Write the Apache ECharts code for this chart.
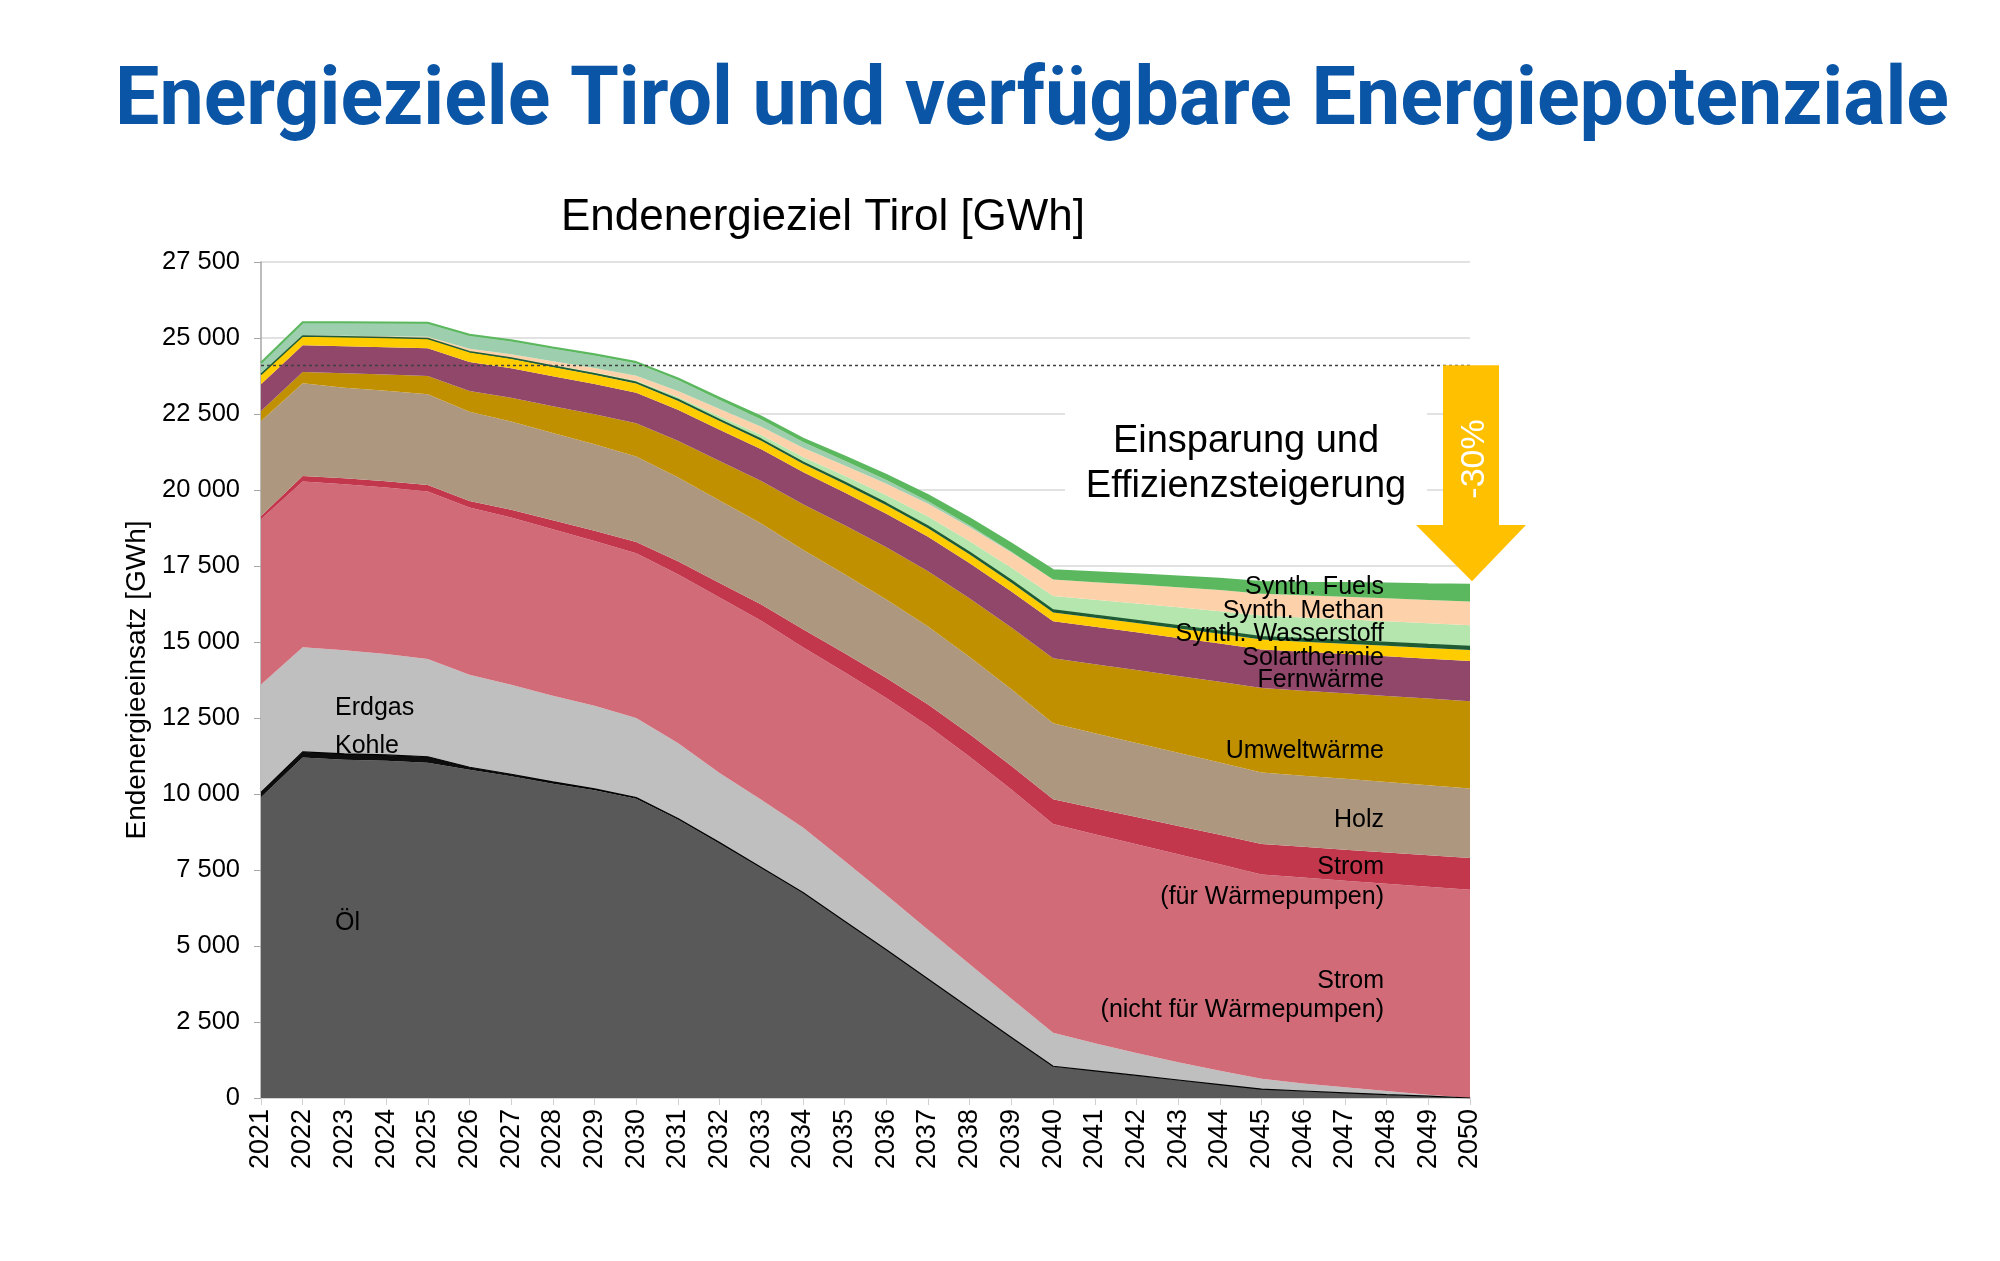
<!DOCTYPE html>
<html>
<head>
<meta charset="utf-8">
<script src="https://cdn.jsdelivr.net/npm/echarts@6/dist/echarts.min.js"></script>
<style>
  html, body { margin: 0; padding: 0; background: #ffffff; }
  #main { width: 2000px; height: 1261px; }
</style>
</head>
<body>
<div id="main"></div>
<script>
// Jahre
var years = ['2021','2022','2023','2024','2025','2026','2027','2028','2029','2030',
             '2031','2032','2033','2034','2035','2036','2037','2038','2039','2040',
             '2041','2042','2043','2044','2045','2046','2047','2048','2049','2050'];

// Endenergie je Träger [GWh]
var oel = [9890, 11200, 11130, 11090, 11030, 10800, 10580, 10340, 10120, 9840,
           9160, 8370, 7560, 6740, 5800, 4860, 3900, 2940, 1985, 1040,
           890, 740, 590, 440, 290, 230, 170, 110, 60, 0];
var kohle = [165, 185, 190, 195, 195, 80, 70, 60, 50, 40,
             35, 30, 25, 20, 18, 15, 12, 10, 8, 5,
             5, 4, 3, 2, 2, 1, 1, 1, 0, 0];
var erdgas = [3545, 3440, 3406, 3320, 3216, 3045, 2946, 2835, 2736, 2620,
              2483, 2290, 2229, 2140, 1975, 1800, 1625, 1450, 1275, 1100,
              905, 736, 587, 458, 338, 249, 179, 119, 50, 0];
var stromNichtWP = [5438, 5451, 5462, 5474, 5507, 5497, 5497, 5474, 5420, 5420,
                    5552, 5772, 5881, 5930, 6212, 6479, 6710, 6827, 6882, 6870,
                    6880, 6870, 6840, 6790, 6720, 6770, 6800, 6820, 6840, 6852];
var stromWP = [109, 186, 200, 210, 219, 219, 255, 295, 335, 373,
               430, 480, 535, 588, 625, 665, 700, 740, 775, 810,
               850, 890, 930, 970, 1006, 1013, 1020, 1027, 1034, 1041];
var holz = [3124, 3047, 2975, 2975, 2981, 2937, 2905, 2870, 2840, 2805,
            2760, 2710, 2665, 2616, 2600, 2580, 2560, 2540, 2520, 2500,
            2470, 2440, 2410, 2380, 2350, 2340, 2330, 2315, 2305, 2292];
var umweltwaerme = [329, 373, 480, 536, 602, 679, 780, 885, 990, 1096,
                    1200, 1300, 1400, 1500, 1610, 1715, 1820, 1925, 2030, 2141,
                    2270, 2400, 2525, 2650, 2778, 2795, 2815, 2835, 2850, 2870];
var fernwaerme = [876, 877, 888, 899, 910, 954, 968, 981, 995, 1008,
                  1020, 1030, 1042, 1054, 1080, 1108, 1135, 1162, 1190, 1216,
                  1228, 1240, 1250, 1262, 1273, 1282, 1292, 1301, 1310, 1320];
var solarthermie = [329, 307, 310, 314, 318, 320, 315, 310, 305, 300,
                    293, 286, 279, 272, 275, 278, 282, 285, 288, 290,
                    297, 304, 310, 317, 324, 331, 338, 345, 352, 359];
var biomethan = [0, 0, 0, 0, 5, 20, 25, 30, 35, 40,
                 44, 48, 52, 55, 59, 63, 67, 71, 75, 80,
                 82, 84, 86, 88, 90, 96, 102, 108, 114, 120];
var wasserstoff = [0, 0, 0, 0, 0, 10, 20, 30, 40, 50,
                   80, 110, 140, 170, 215, 265, 315, 365, 415, 460,
                   510, 560, 610, 655, 700, 700, 700, 700, 700, 700];
var methan = [0, 15, 30, 45, 60, 85, 105, 125, 145, 165,
              200, 235, 270, 305, 340, 380, 420, 460, 500, 540,
              580, 620, 660, 700, 720, 730, 740, 755, 765, 776];
var biokraftstoffe = [360, 410, 420, 425, 430, 430, 425, 420, 415, 410,
                      360, 300, 245, 190, 155, 120, 85, 55, 25, 0,
                      0, 0, 0, 0, 0, 0, 0, 0, 0, 0];
var fuels = [20, 25, 25, 28, 30, 32, 34, 36, 38, 40,
             55, 70, 90, 110, 140, 170, 200, 235, 270, 310,
             326, 340, 354, 368, 382, 416, 450, 485, 520, 555];

// Referenzlinie 2021 und Pfeil (-30%)
var refLevel = 24100;
var arrowHeadLevel = 18850;
var arrowTipLevel = 17000;

var FONT = '"Liberation Sans", Arial, sans-serif';

function stackSeries(name, data, color, line) {
    return {
        name: name,
        type: 'line',
        stack: 'total',
        data: data,
        symbol: 'none',
        smooth: false,
        silent: true,
        lineStyle: line ? { width: line.width, color: line.color } : { width: 0 },
        areaStyle: { color: color, opacity: 1 },
        itemStyle: { color: color }
    };
}

function fmtThousands(v) {
    if (v < 1000) return String(v);
    var rest = String(v % 1000);
    while (rest.length < 3) rest = '0' + rest;
    return Math.floor(v / 1000) + ' ' + rest;
}

var myChart = echarts.init(document.getElementById('main'), null, { renderer: 'canvas' });

var option = {
    backgroundColor: '#ffffff',
    animation: false,
    grid: {
        left: 261,
        right: 530,
        top: 262,
        bottom: 163
    },
    xAxis: {
        type: 'category',
        boundaryGap: false,
        data: years,
        axisLine: { show: true, lineStyle: { color: '#d0d0d0', width: 1.5 } },
        axisTick: { show: true, interval: 0, length: 7, lineStyle: { color: '#d0d0d0' } },
        axisLabel: {
            interval: 0,
            rotate: 90,
            margin: 11,
            color: '#000000',
            fontFamily: FONT,
            fontSize: 27
        },
        splitLine: { show: false }
    },
    yAxis: {
        type: 'value',
        min: 0,
        max: 27500,
        interval: 2500,
        name: 'Endenergieeinsatz [GWh]',
        nameLocation: 'middle',
        nameGap: 100,
        nameTextStyle: { color: '#000000', fontFamily: FONT, fontSize: 28 },
        axisLine: { show: true, lineStyle: { color: '#a6a6a6', width: 1.5 } },
        axisTick: { show: true, length: 7, lineStyle: { color: '#a6a6a6' } },
        axisLabel: {
            margin: 21,
            color: '#000000',
            fontFamily: FONT,
            fontSize: 25.5,
            formatter: fmtThousands
        },
        splitLine: { show: true, lineStyle: { color: '#d9d9d9', width: 1.5 } }
    },
    series: [
        stackSeries('Öl', oel, '#595959'),
        stackSeries('Kohle', kohle, '#0d0d0d', { width: 1.2, color: '#000000' }),
        stackSeries('Erdgas', erdgas, '#bfbfbf'),
        stackSeries('Strom (nicht für Wärmepumpen)', stromNichtWP, '#d16b78'),
        stackSeries('Strom (für Wärmepumpen)', stromWP, '#c3374d'),
        stackSeries('Holz', holz, '#ae977f'),
        stackSeries('Umweltwärme', umweltwaerme, '#c09000'),
        stackSeries('Fernwärme', fernwaerme, '#91476a'),
        stackSeries('Solarthermie', solarthermie, '#ffcc00'),
        stackSeries('Biomethan', biomethan, '#1f5c35', { width: 1.5, color: '#1f5c35' }),
        stackSeries('Synth. Wasserstoff', wasserstoff, '#b4e6ad'),
        stackSeries('Synth. Methan', methan, '#fdd2aa'),
        stackSeries('Biokraftstoffe', biokraftstoffe, '#9dcfae'),
        {
            name: 'Synth. Fuels',
            type: 'line',
            stack: 'total',
            data: fuels,
            symbol: 'none',
            silent: true,
            lineStyle: { width: 2, color: '#5cb85f' },
            areaStyle: { color: '#5cb85f', opacity: 1 },
            itemStyle: { color: '#5cb85f' },
            markLine: {
                silent: true,
                symbol: 'none',
                label: { show: false },
                lineStyle: { type: [3, 3], color: '#404040', width: 1.3 },
                data: [[{ coord: [years[0], refLevel] }, { coord: [years[years.length - 1], refLevel] }]]
            }
        }
    ]
};

myChart.setOption(option);

// Pfeil und Beschriftungen
var ctx = document.createElement('canvas').getContext('2d');
var mainTitle = 'Energieziele Tirol und verfügbare Energiepotenziale';
var titleFont = 'bold 81px Roboto, "Open Sans", sans-serif';
ctx.font = titleFont;
var titleScale = 1834 / ctx.measureText(mainTitle).width;

var xEnd = myChart.convertToPixel({ xAxisIndex: 0 }, years[years.length - 1]);
var yTop = myChart.convertToPixel({ yAxisIndex: 0 }, refLevel);
var yHead = myChart.convertToPixel({ yAxisIndex: 0 }, arrowHeadLevel);
var yTip = myChart.convertToPixel({ yAxisIndex: 0 }, arrowTipLevel);

function label(text, x, y, align) {
    return {
        type: 'text',
        z: 100,
        style: {
            text: text,
            x: x,
            y: y,
            fill: '#000000',
            font: '25px ' + FONT,
            textAlign: align || 'right',
            textVerticalAlign: 'middle'
        }
    };
}

var graphics = [
    {
        type: 'text',
        x: 115,
        y: 104,
        scaleX: titleScale,
        style: {
            text: mainTitle,
            x: 0,
            y: 0,
            fill: '#0a55a5',
            font: titleFont,
            textAlign: 'left',
            textVerticalAlign: 'middle'
        }
    },
    {
        type: 'text',
        style: {
            text: 'Endenergieziel Tirol [GWh]',
            x: 823,
            y: 218,
            fill: '#000000',
            font: '44px ' + FONT,
            textAlign: 'center',
            textVerticalAlign: 'middle'
        }
    },
    {
        type: 'rect',
        z: 90,
        shape: { x: 1065, y: 398, width: 362, height: 130 },
        style: { fill: '#ffffff' }
    },
    {
        type: 'text',
        z: 100,
        style: {
            text: 'Einsparung und\nEffizienzsteigerung',
            x: 1246,
            y: 464,
            fill: '#000000',
            font: '38px ' + FONT,
            lineHeight: 45,
            textAlign: 'center',
            textVerticalAlign: 'middle'
        }
    },
    {
        type: 'polygon',
        z: 95,
        shape: {
            points: [
                [xEnd - 27, yTop], [xEnd + 29, yTop], [xEnd + 29, yHead],
                [xEnd + 56, yHead], [xEnd + 2, yTip], [xEnd - 54, yHead],
                [xEnd - 27, yHead]
            ]
        },
        style: { fill: '#ffc000' }
    },
    {
        type: 'text',
        z: 100,
        x: xEnd + 5,
        y: 459,
        rotation: Math.PI / 2,
        style: {
            text: '-30%',
            x: 0,
            y: 0,
            fill: '#ffffff',
            font: '34px ' + FONT,
            textAlign: 'center',
            textVerticalAlign: 'middle'
        }
    },
    label('Synth. Fuels', 1384, 587),
    label('Synth. Methan', 1384, 611),
    label('Synth. Wasserstoff', 1384, 634),
    label('Solarthermie', 1384, 658),
    label('Fernwärme', 1384, 680),
    label('Umweltwärme', 1384, 751),
    label('Holz', 1384, 820),
    label('Strom', 1384, 867),
    label('(für Wärmepumpen)', 1384, 897),
    label('Strom', 1384, 981),
    label('(nicht für Wärmepumpen)', 1384, 1010),
    label('Erdgas', 335, 708, 'left'),
    label('Kohle', 335, 746, 'left'),
    label('Öl', 335, 923, 'left')
];

myChart.setOption({ graphic: graphics });
</script>
</body>
</html>
